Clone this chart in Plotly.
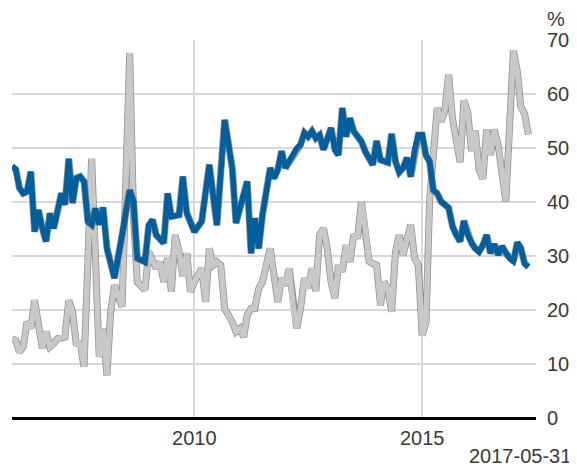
import plotly.graph_objects as go

# Blue series (vertices), monthly dates
blue_dates = [
    "2006-01-01","2006-02-01","2006-03-01","2006-04-01","2006-05-01","2006-06-01","2006-07-01","2006-08-01",
    "2006-09-01","2006-10-01","2006-11-01","2006-12-01","2007-02-01","2007-03-01","2007-04-01","2007-05-01",
    "2007-06-01","2007-07-01","2007-08-01","2007-09-01","2007-10-01","2007-11-01","2007-12-01","2008-01-01",
    "2008-02-01","2008-04-01","2008-06-01","2008-08-01","2008-09-01","2008-10-01","2008-12-01","2009-01-01",
    "2009-02-01","2009-03-01","2009-05-01","2009-06-01","2009-07-01","2009-09-01","2009-10-01","2009-11-01",
    "2010-01-01","2010-03-01","2010-05-01","2010-07-01","2010-09-01","2010-11-01","2010-12-01","2011-02-01",
    "2011-03-01","2011-04-01","2011-05-01","2011-06-01","2011-07-01","2011-09-01","2011-10-01","2011-11-01",
    "2011-12-01","2012-01-01","2012-02-01","2012-04-01","2012-05-01","2012-06-01","2012-07-01","2012-08-01",
    "2012-09-01","2012-10-01","2012-11-01","2013-01-01","2013-02-01","2013-03-01","2013-04-01","2013-05-01",
    "2013-06-01","2013-07-01","2013-09-01","2013-10-01","2013-12-01","2014-01-01","2014-02-01","2014-04-01",
    "2014-05-01","2014-06-01","2014-07-01","2014-08-01","2014-09-01","2014-10-01","2014-11-01","2014-12-01",
    "2015-01-01","2015-02-01","2015-03-01","2015-04-01","2015-05-01","2015-06-01","2015-08-01","2015-09-01",
    "2015-10-01","2015-11-01","2015-12-01","2016-01-01","2016-02-01","2016-03-01","2016-04-01","2016-05-01",
    "2016-06-01","2016-07-01","2016-08-01","2016-09-01","2016-10-01","2016-11-01","2016-12-01","2017-01-01",
    "2017-02-01","2017-03-01","2017-04-01","2017-05-01",
]
blue_values = [
    46.6, 46.0, 42.6, 41.6, 41.9, 45.6, 34.5, 38.5,
    35.1, 32.7, 37.9, 35.1, 41.6, 39.5, 48.0, 39.8,
    44.4, 44.7, 43.8, 36.4, 35.8, 38.8, 35.8, 39.0,
    31.4, 25.9, 33.9, 42.2, 40.1, 29.6, 28.9, 35.7,
    36.7, 33.9, 32.4, 41.6, 37.3, 37.6, 44.7, 38.0,
    34.5, 36.4, 46.9, 35.7, 55.2, 46.3, 36.1, 41.9,
    43.8, 30.5, 37.0, 31.4, 37.6, 46.3, 44.4, 46.0,
    49.4, 46.3, 47.5, 50.0, 50.6, 52.8, 52.1, 53.1,
    51.8, 52.4, 49.7, 53.7, 49.7, 48.7, 57.4, 52.1,
    55.5, 53.1, 51.2, 49.4, 46.9, 51.3, 47.8, 47.3,
    52.6, 47.5, 45.5, 46.3, 48.2, 44.7, 49.7, 52.4,
    52.4, 48.6, 47.5, 42.2, 41.6, 40.1, 38.9, 35.5,
    33.9, 32.7, 36.5, 33.9, 32.4, 31.4, 30.8, 32.0,
    33.9, 30.5, 32.2, 30.2, 31.8, 30.5, 29.6, 29.0,
    32.5, 31.5, 28.6, 28.0,
]

# Grey series (vertices)
grey_dates = [
    "2006-01-01","2006-02-01","2006-03-01","2006-04-01","2006-05-01","2006-06-01","2006-07-01","2006-08-01",
    "2006-09-01","2006-10-01","2006-11-01","2006-12-01","2007-01-01","2007-03-01","2007-04-01","2007-05-01",
    "2007-06-01","2007-07-01","2007-08-01","2007-10-01","2007-12-01","2008-01-01","2008-02-01","2008-03-01",
    "2008-04-01","2008-06-01","2008-08-01","2008-09-01","2008-10-01","2008-12-01","2009-01-01","2009-03-01",
    "2009-04-01","2009-05-01","2009-06-01","2009-07-01","2009-08-01","2009-09-01","2009-10-01","2009-11-01",
    "2009-12-01","2010-01-01","2010-02-01","2010-03-01","2010-04-01","2010-05-01","2010-06-01","2010-07-01",
    "2010-08-01","2010-09-01","2010-11-01","2010-12-01","2011-01-01","2011-02-01","2011-03-01","2011-04-01",
    "2011-05-01","2011-06-01","2011-07-01","2011-09-01","2011-10-01","2011-11-01","2011-12-01","2012-01-01",
    "2012-02-01","2012-03-01","2012-04-01","2012-05-01","2012-06-01","2012-07-01","2012-08-01","2012-09-01",
    "2012-10-01","2012-11-01","2012-12-01","2013-01-01","2013-02-01","2013-03-01","2013-04-01","2013-05-01",
    "2013-06-01","2013-07-01","2013-08-01","2013-09-01","2013-10-01","2013-11-01","2013-12-01","2014-01-01",
    "2014-02-01","2014-03-01","2014-04-01","2014-05-01","2014-06-01","2014-07-01","2014-08-01","2014-10-01",
    "2014-11-01","2014-12-01","2015-01-01","2015-02-01","2015-03-01","2015-04-01","2015-05-01","2015-06-01",
    "2015-07-01","2015-08-01","2015-09-01","2015-11-01","2015-12-01","2016-01-01","2016-02-01","2016-03-01",
    "2016-04-01","2016-05-01","2016-06-01","2016-07-01","2016-08-01","2016-09-01","2016-11-01","2017-01-01",
    "2017-02-01","2017-03-01","2017-04-01","2017-05-01",
]
grey_values = [
    14.7, 14.4, 12.2, 13.2, 17.8, 16.6, 21.8, 17.2,
    12.9, 16.0, 13.2, 13.8, 14.7, 15.0, 21.8, 19.7,
    13.5, 14.1, 9.5, 48.0, 11.3, 16.6, 7.9, 19.5,
    24.6, 20.6, 67.6, 37.0, 25.2, 23.7, 30.8, 27.7,
    28.9, 25.2, 29.6, 23.4, 33.9, 30.8, 26.2, 30.5,
    23.4, 25.2, 26.5, 27.7, 21.5, 31.4, 28.3, 28.9,
    28.3, 20.3, 17.8, 16.0, 16.6, 15.0, 19.1, 20.3,
    20.3, 24.0, 25.2, 31.4, 26.5, 21.5, 25.9, 24.5,
    27.7, 20.9, 16.6, 20.3, 25.9, 24.0, 27.7, 23.5,
    33.9, 35.1, 31.4, 25.2, 22.2, 28.3, 27.1, 32.0,
    28.9, 33.9, 33.3, 40.1, 35.3, 29.0, 28.6, 28.3,
    20.9, 25.2, 24.0, 19.7, 30.8, 33.9, 30.2, 35.8,
    29.6, 28.3, 15.3, 17.8, 40.0, 50.6, 57.4, 54.9,
    56.8, 63.6, 55.5, 47.4, 58.8, 56.6, 49.4, 53.2,
    46.0, 44.3, 53.4, 48.7, 53.4, 50.5, 40.1, 68.0,
    64.2, 57.7, 56.3, 52.5,
]

y_ticks = [0, 10, 20, 30, 40, 50, 60, 70]
date_label = "2017-05-31"
unit_label = "%"

BLUE = "#005f9f"
GREY = "#c8c8c8"
OUTLINE = "rgba(100,100,100,0.7)"
FONT = dict(family="Liberation Sans, Arial, sans-serif", size=20, color="#3a3a3a")

fig = go.Figure()
for xs, ys, col in [(grey_dates, grey_values, GREY), (blue_dates, blue_values, BLUE)]:
    fig.add_trace(go.Scatter(x=xs, y=ys, mode="lines", hoverinfo="skip",
                             line=dict(color=OUTLINE, width=7)))
    fig.add_trace(go.Scatter(x=xs, y=ys, mode="lines",
                             line=dict(color=col, width=5.5)))

# page body has an 8px default margin, so the figure is sized to 569x459
fig.update_layout(
    width=569, height=459,
    margin=dict(l=4, r=41, t=32, b=49, autoexpand=False),
    paper_bgcolor="white", plot_bgcolor="white",
    showlegend=False,
    font=FONT,
    xaxis=dict(
        type="date",
        range=["2006-01-01", "2017-07-01"],
        tickvals=["2010-01-01", "2015-01-01"],
        ticktext=["2010", "2015"],
        showgrid=True, gridcolor="#d9d9d9", gridwidth=2,
        zeroline=False, showline=False,
        ticks="", ticklabelstandoff=6,
        tickfont=FONT, automargin=False,
    ),
    yaxis=dict(
        range=[0, 70], side="right",
        tickvals=y_ticks,
        showgrid=True, gridcolor="#d9d9d9", gridwidth=2,
        zeroline=True, zerolinecolor="black", zerolinewidth=3,
        showline=False, ticks="", ticklabelstandoff=10,
        tickfont=FONT, automargin=False,
    ),
    annotations=[
        dict(text=unit_label, xref="paper", yref="paper", x=1, y=1,
             xanchor="left", yanchor="middle", xshift=9, yshift=21,
             showarrow=False, font=FONT),
        dict(text=date_label, xref="paper", yref="paper", x=1, y=0,
             xanchor="right", yanchor="middle", xshift=37, yshift=-38,
             showarrow=False, font=FONT),
    ],
)

fig.write_html("out.html")
